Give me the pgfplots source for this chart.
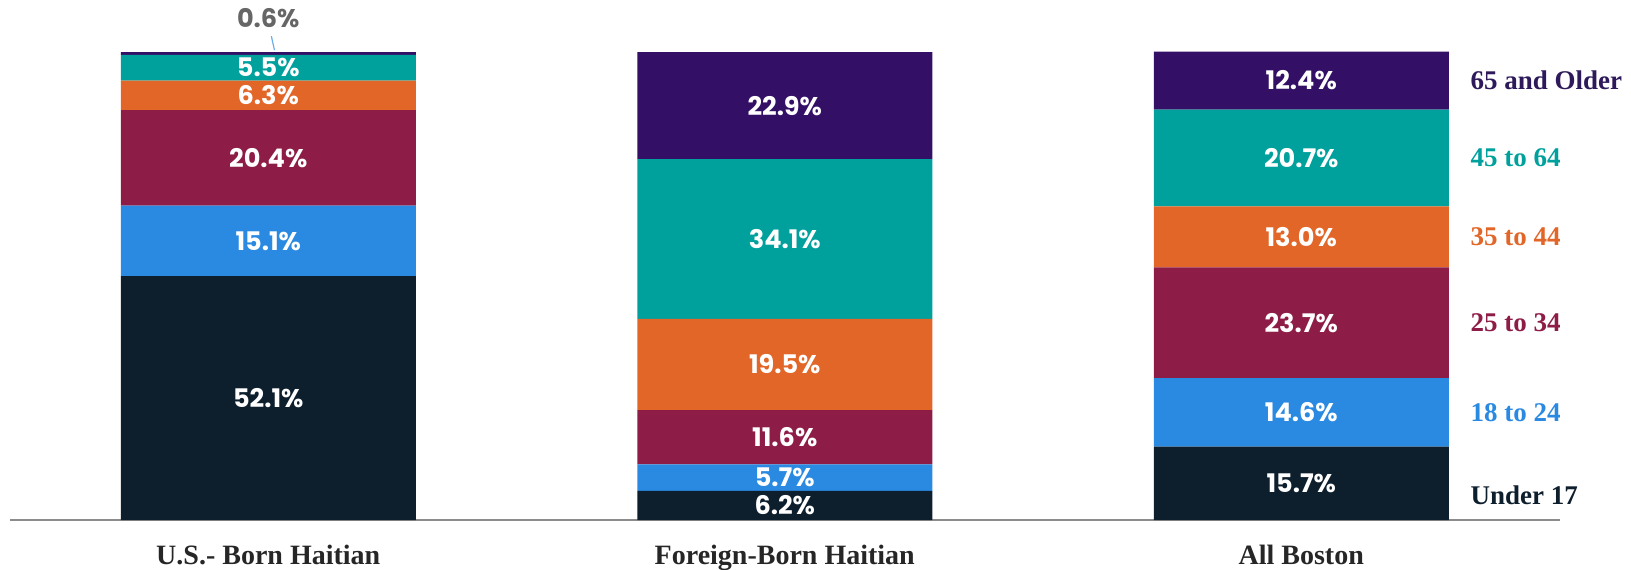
\documentclass[border=0pt]{standalone}
\usepackage{pgfplots}
\pgfplotsset{compat=1.18}
\usepackage{fontspec}
\setmainfont{Liberation Serif}
\newfontfamily\valfont{Poppins}
\definecolor{cnavy}{HTML}{0D1E2D}
\definecolor{cblue}{HTML}{2A8AE2}
\definecolor{cmaroon}{HTML}{8D1C47}
\definecolor{corange}{HTML}{E26628}
\definecolor{cteal}{HTML}{00A09D}
\definecolor{cpurple}{HTML}{331066}
\definecolor{lpurple}{HTML}{2E1A5A}
\begin{document}
\begin{tikzpicture}
\useasboundingbox (0,0) rectangle (815.5pt,284.5pt);
\begin{axis}[
  at={(5pt,24.5pt)}, anchor=south west,
  scale only axis, width=774.75pt, height=234pt,
  xmin=-0.5, xmax=2.5, ymin=0, ymax=100,
  ybar stacked, bar width=147.5pt,
  axis x line*=bottom, axis y line=none,
  axis line style={draw=black!45, line width=0.9pt},
  xtick={0,1,2}, xticklabels={U.S.- Born Haitian, Foreign-Born Haitian, All Boston},
  major tick length=0pt,
  xticklabel style={font=\fontsize{14pt}{16pt}\selectfont\bfseries, text=black!85, anchor=base, yshift=-22pt},
  clip=false,
]
\addplot[fill=cnavy, draw=none] coordinates {(0,52.1) (1,6.2) (2,15.7)};
\addplot[fill=cblue, draw=none] coordinates {(0,15.1) (1,5.7) (2,14.6)};
\addplot[fill=cmaroon, draw=none] coordinates {(0,20.4) (1,11.6) (2,23.7)};
\addplot[fill=corange, draw=none] coordinates {(0,6.3) (1,19.5) (2,13.0)};
\addplot[fill=cteal, draw=none] coordinates {(0,5.5) (1,34.1) (2,20.7)};
\addplot[fill=cpurple, draw=none] coordinates {(0,0.6) (1,22.9) (2,12.4)};
\end{axis}
\begin{axis}[
  at={(5pt,24.5pt)}, anchor=south west,
  scale only axis, width=774.75pt, height=234pt,
  xmin=-0.5, xmax=2.5, ymin=0, ymax=100,
  hide axis, clip=false,
]
\addplot[only marks, mark=none, point meta=explicit symbolic,
  nodes near coords, nodes near coords align=center,
  every node near coord/.append style={anchor=center, text=white,
    font=\valfont\bfseries\fontsize{12.8pt}{14pt}\selectfont}]
  coordinates {
  (0,26.05) [52.1\%] (0,59.65) [15.1\%] (0,77.4) [20.4\%] (0,90.75) [6.3\%] (0,96.65) [5.5\%]
  (1,3.1) [6.2\%] (1,9.05) [5.7\%] (1,17.7) [11.6\%] (1,33.25) [19.5\%] (1,60.05) [34.1\%] (1,88.55) [22.9\%]
  (2,7.85) [15.7\%] (2,23.0) [14.6\%] (2,42.15) [23.7\%] (2,60.5) [13.0\%] (2,77.35) [20.7\%] (2,93.9) [12.4\%]
  };
\addplot[only marks, mark=none, point meta=explicit symbolic,
  nodes near coords, nodes near coords align=center,
  every node near coord/.append style={anchor=center, text=black!60,
    font=\valfont\bfseries\fontsize{12.8pt}{14pt}\selectfont}]
  coordinates {(0,107.3) [0.6\%]};
\addplot[draw=cblue!70, line width=0.6pt, mark=none] coordinates {(0.012,100.4) (0.006,103.4)};
\addplot[only marks, mark=none, point meta=explicit symbolic,
  nodes near coords, nodes near coords align=center,
  every node near coord/.append style={anchor=west, inner sep=0pt,
    font=\bfseries\fontsize{13.5pt}{15pt}\selectfont}]
  coordinates {
  (2.327,93.9) [\textcolor{lpurple}{65 and Older}]
  (2.327,77.35) [\textcolor{cteal}{45 to 64}]
  (2.327,60.5) [\textcolor{corange}{35 to 44}]
  (2.327,42.15) [\textcolor{cmaroon}{25 to 34}]
  (2.327,23.0) [\textcolor{cblue}{18 to 24}]
  (2.327,5.3) [\textcolor{cnavy}{Under 17}]
  };
\end{axis}
\end{tikzpicture}
\end{document}
